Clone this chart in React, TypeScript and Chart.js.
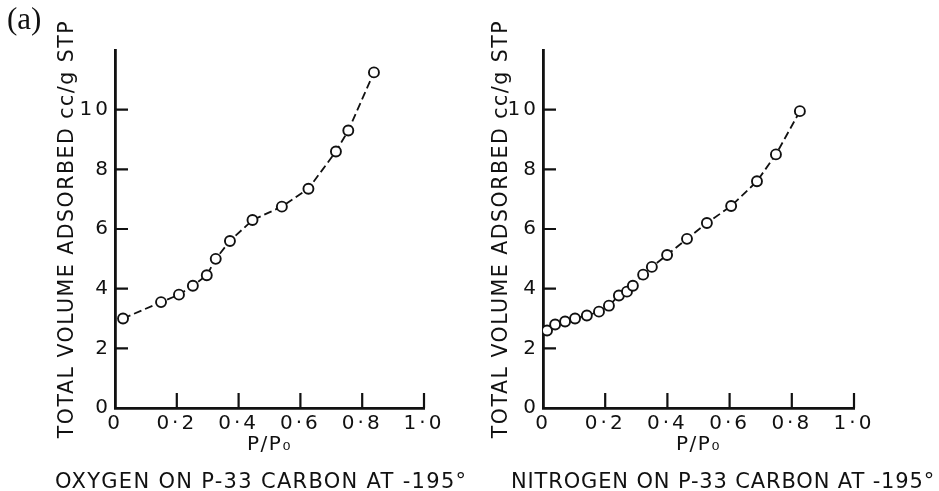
import React, { useEffect, useRef } from 'react';
import { Chart, registerables } from 'chart.js';

Chart.register(...registerables);

// ---- data ----
const OXYGEN_P = [0.026, 0.149, 0.207, 0.252, 0.297, 0.326, 0.372, 0.445, 0.54, 0.626, 0.715, 0.755, 0.838];
const OXYGEN_V = [3.0, 3.55, 3.8, 4.1, 4.45, 5.0, 5.6, 6.3, 6.75, 7.35, 8.6, 9.3, 11.25];

const NITROGEN_P = [0.013, 0.039, 0.071, 0.103, 0.141, 0.18, 0.212, 0.244, 0.27, 0.289, 0.322, 0.35, 0.399, 0.463, 0.527, 0.605, 0.688, 0.749, 0.826];
const NITROGEN_V = [2.6, 2.8, 2.9, 3.0, 3.1, 3.23, 3.43, 3.77, 3.9, 4.1, 4.47, 4.73, 5.13, 5.67, 6.2, 6.77, 7.6, 8.5, 9.95];

const X_TICK_LABELS = ['0', '0·2', '0·4', '0·6', '0·8', '1·0'];
const Y_TICK_LABELS = ['0', '2', '4', '6', '8', '10', ''];
const Y_TITLE = 'TOTAL VOLUME ADSORBED cc/g STP';
const X_TITLE = 'P/P₀';
const CAPTION_OXYGEN = 'OXYGEN ON P-33 CARBON AT -195°';
const CAPTION_NITROGEN = 'NITROGEN ON P-33 CARBON AT -195°';
const PANEL_LABEL = '(a)';

const FONT = '"DejaVu Sans", sans-serif';

// titles are drawn before the datasets, tick labels (z: 1) after them
const spacingPlugin = {
  id: 'spacing',
  beforeDraw(chart: any) {
    chart.ctx.letterSpacing = '1.5px';
  },
  afterDatasetsDraw(chart: any) {
    chart.ctx.letterSpacing = '3px';
  },
  afterDraw(chart: any) {
    chart.ctx.letterSpacing = '0px';
  },
};

const inwardTicks = {
  id: 'inwardTicks',
  afterDraw(chart: any) {
    const { ctx, chartArea, scales } = chart;
    const xs = scales.x;
    const ys = scales.y;
    ctx.save();
    ctx.strokeStyle = '#111';
    ctx.lineWidth = 2.2;
    ctx.beginPath();
    xs.ticks.forEach((t: any) => {
      if (t.value <= 0) return;
      const px = xs.getPixelForValue(t.value);
      ctx.moveTo(px, chartArea.bottom);
      ctx.lineTo(px, chartArea.bottom - 15);
    });
    ys.ticks.forEach((t: any) => {
      if (t.value <= 0 || t.value >= 12) return;
      const py = ys.getPixelForValue(t.value);
      ctx.moveTo(chartArea.left, py);
      ctx.lineTo(chartArea.left + 13, py);
    });
    ctx.stroke();
    ctx.restore();
  },
};

type PanelProps = {
  p: number[];
  v: number[];
  width: number;
  height: number;
  padLeft: number;
  padRight: number;
  yAxisWidth: number;
};

function Panel({ p, v, width, height, padLeft, padRight, yAxisWidth }: PanelProps) {
  const ref = useRef<HTMLCanvasElement | null>(null);
  useEffect(() => {
    if (!ref.current) return;
    const data = p.map((x, i) => ({ x, y: v[i] }));
    const chart = new Chart(ref.current, {
      type: 'scatter',
      data: {
        datasets: [
          {
            data,
            showLine: true,
            borderColor: '#111',
            borderWidth: 1.8,
            borderDash: [8, 4],
            tension: 0,
            pointRadius: 5,
            pointBorderWidth: 1.9,
            pointBorderColor: '#111',
            pointBackgroundColor: '#fff',
          },
        ],
      },
      options: {
        animation: false,
        responsive: false,
        devicePixelRatio: 1,
        layout: { padding: { left: padLeft, right: padRight, top: 50, bottom: 36 } },
        plugins: { legend: { display: false }, tooltip: { enabled: false }, title: { display: false } },
        scales: {
          x: {
            type: 'linear',
            min: 0,
            max: 1,
            grid: { display: true, drawOnChartArea: false, drawTicks: false },
            border: { display: true, color: '#111', width: 2.8 },
            ticks: {
              z: 1,
              stepSize: 0.2,
              padding: 4,
              color: '#111',
              font: { family: FONT, size: 20 },
              maxRotation: 0,
              autoSkip: false,
              callback: (_val: any, index: number) => X_TICK_LABELS[index],
            },
            title: {
              display: true,
              text: X_TITLE,
              color: '#111',
              font: { family: FONT, size: 20, lineHeight: 1 },
              padding: { top: 0, bottom: 0 },
            },
            afterFit: (scale: any) => {
              scale.height = 47;
            },
          },
          y: {
            type: 'linear',
            min: 0,
            max: 12,
            grid: { display: true, drawOnChartArea: false, drawTicks: false },
            border: { display: true, color: '#111', width: 2.8 },
            ticks: {
              z: 1,
              stepSize: 2,
              padding: 4,
              color: '#111',
              font: { family: FONT, size: 20 },
              callback: (_val: any, index: number) => Y_TICK_LABELS[index],
            },
            title: {
              display: true,
              text: Y_TITLE,
              color: '#111',
              font: { family: FONT, size: 20.5, lineHeight: 1 },
              padding: { top: 0, bottom: 0 },
            },
            afterFit: (scale: any) => {
              scale.width = yAxisWidth;
            },
          },
        },
      },
      plugins: [spacingPlugin, inwardTicks],
    });
    return () => chart.destroy();
  }, [p, v, width, height, padLeft, padRight, yAxisWidth]);
  return <canvas ref={ref} width={width} height={height} style={{ display: 'block', width, height }} />;
}

export default function App() {
  const captionStyle: React.CSSProperties = {
    position: 'absolute',
    top: 471,
    fontFamily: FONT,
    fontSize: 21,
    lineHeight: '21px',
    color: '#111',
    whiteSpace: 'pre',
  };
  return (
    <div style={{ position: 'absolute', left: 0, top: 0, width: 939, height: 491, background: '#fff', overflow: 'hidden' }}>
      <div style={{ position: 'absolute', left: 0, top: 0, width: 470, height: 491 }}>
        <Panel p={OXYGEN_P} v={OXYGEN_V} width={470} height={491} padLeft={57.25} padRight={46} yAxisWidth={57.75} />
      </div>
      <div style={{ position: 'absolute', left: 470, top: 0, width: 469, height: 491 }}>
        <Panel p={NITROGEN_P} v={NITROGEN_V} width={469} height={491} padLeft={21.75} padRight={85} yAxisWidth={51.25} />
      </div>
      <div
        style={{
          position: 'absolute',
          left: 7,
          top: 2,
          fontFamily: '"Liberation Serif", serif',
          fontSize: 31,
          lineHeight: '34px',
          color: '#111',
        }}
      >
        {PANEL_LABEL}
      </div>
      <div style={{ ...captionStyle, left: 55, letterSpacing: '1.3px' }}>{CAPTION_OXYGEN}</div>
      <div style={{ ...captionStyle, left: 511, letterSpacing: '0.85px' }}>{CAPTION_NITROGEN}</div>
    </div>
  );
}
